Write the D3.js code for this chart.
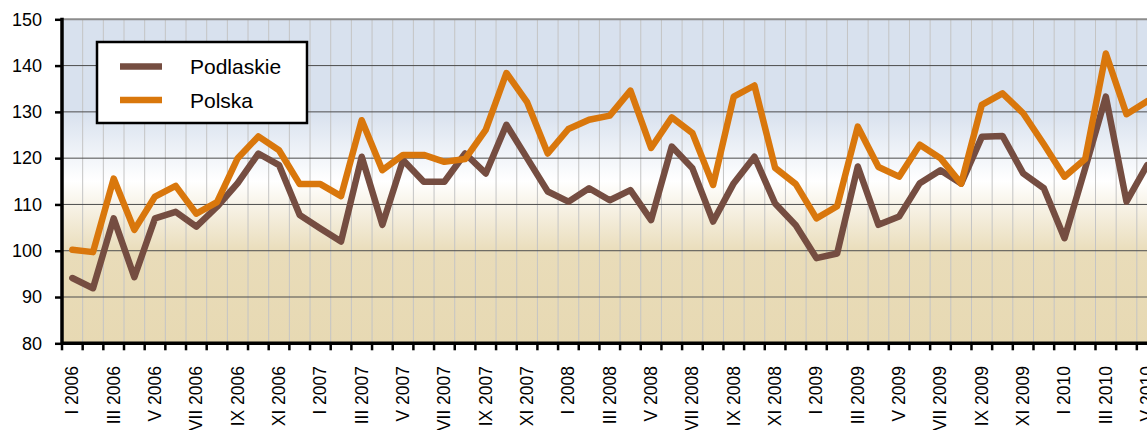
<!DOCTYPE html>
<html>
<head>
<meta charset="utf-8">
<script src="https://cdn.jsdelivr.net/npm/d3@7"></script>
<style>
  html, body { margin: 0; padding: 0; background: #ffffff; }
  svg { display: block; }
  text { font-family: "Liberation Sans", Arial, sans-serif; fill: #000; }
</style>
</head>
<body>
<svg id="chart" width="1147" height="430"></svg>
<script>
// ---- data ----
const romans = ["I","II","III","IV","V","VI","VII","VIII","IX","X","XI","XII"];
const years = [2006, 2007, 2008, 2009, 2010];
const monthCount = 53; // I 2006 .. V 2010
const categories = [];
for (let i = 0; i < monthCount; i++) {
  categories.push(romans[i % 12] + " " + years[Math.floor(i / 12)]);
}
const seriesNames = ["Podlaskie", "Polska"];
const podlaskie = [94.1, 91.9, 107.0, 94.3, 107.0, 108.4, 105.2, 109.5, 114.6, 121.0,
  118.5, 107.7, 104.8, 102.0, 120.3, 105.6, 119.6, 114.9, 114.9, 121.0,
  116.7, 127.2, 120.0, 112.8, 110.6, 113.5, 110.9, 113.1, 106.6, 122.5,
  117.8, 106.3, 114.6, 120.3, 110.2, 105.5, 98.4, 99.4, 118.2, 105.6,
  107.4, 114.6, 117.4, 114.5, 124.6, 124.8, 116.7, 113.5, 102.7, 117.8,
  133.3, 110.6, 118.5];
const polska = [100.2, 99.7, 115.6, 104.5, 111.7, 114.0, 108.0, 110.5, 120.0, 124.7,
  121.7, 114.4, 114.4, 111.8, 128.2, 117.4, 120.7, 120.7, 119.2, 119.8,
  126.1, 138.4, 132.1, 121.0, 126.3, 128.3, 129.2, 134.6, 122.2, 128.8,
  125.4, 114.2, 133.3, 135.7, 117.9, 114.4, 107.0, 109.6, 126.8, 118.1,
  116.0, 122.9, 120.0, 114.5, 131.5, 134.0, 129.7, 123.0, 116.0, 119.8,
  142.6, 129.5, 132.3];
const yTicks = [80, 90, 100, 110, 120, 130, 140, 150];

// ---- layout ----
const svg = d3.select("#chart");
const plotLeft = 62, plotTop = 19.3, plotBottom = 343.3;
const band = 20.67;
const x = d3.scaleBand().domain(categories).range([plotLeft, plotLeft + band * monthCount]).padding(0);
const y = d3.scaleLinear().domain([80, 150]).range([plotBottom, plotTop]);
const colors = { "Podlaskie": "#754d41", "Polska": "#d9770c" };

// background gradient
const defs = svg.append("defs");
const grad = defs.append("linearGradient").attr("id", "bg")
  .attr("x1", 0).attr("y1", 0).attr("x2", 0).attr("y2", 1);
[[0, "#d8e1ee"], [0.285, "#d8e1ee"], [0.5, "#ffffff"], [0.72, "#e9dcb9"], [1, "#e7d9b3"]]
  .forEach(([o, c]) => grad.append("stop").attr("offset", o).attr("stop-color", c));

const plotRight = 1160;
svg.append("rect").attr("x", plotLeft).attr("y", plotTop).attr("width", plotRight - plotLeft)
  .attr("height", plotBottom - plotTop).attr("fill", "url(#bg)");

// vertical gridlines at band edges
const edges = categories.map(c => x(c)).slice(1);
svg.append("g").selectAll("line").data(edges).join("line")
  .attr("x1", d => d).attr("x2", d => d).attr("y1", plotTop).attr("y2", plotBottom)
  .attr("stroke", "#c4c4c4").attr("stroke-width", 1);

// horizontal gridlines
svg.append("g").selectAll("line").data(yTicks.filter(t => t > 80 && t < 150)).join("line")
  .attr("x1", plotLeft).attr("x2", plotRight).attr("y1", d => y(d)).attr("y2", d => y(d))
  .attr("stroke", "#4d4d4d").attr("stroke-width", 1);
// top border
svg.append("line").attr("x1", plotLeft).attr("x2", plotRight).attr("y1", y(150)).attr("y2", y(150))
  .attr("stroke", "#8c8c8c").attr("stroke-width", 2);

// lines
const line = d3.line().x((d, i) => x(categories[i]) + x.bandwidth() / 2).y(d => y(d));
[["Podlaskie", podlaskie], ["Polska", polska]].forEach(([name, vals]) => {
  svg.append("path").datum(vals).attr("d", line)
    .attr("fill", "none").attr("stroke", colors[name]).attr("stroke-width", 6.5)
    .attr("stroke-linejoin", "round").attr("stroke-linecap", "round");
});

// y axis
const yAxis = d3.axisLeft(y).tickValues(yTicks).tickSize(7).tickPadding(13);
const gy = svg.append("g").attr("transform", `translate(${plotLeft},0)`).call(yAxis);
gy.select(".domain").remove();
gy.selectAll(".tick line").attr("stroke", "#000").attr("stroke-width", 2.5);
gy.selectAll(".tick text").attr("font-size", 18).attr("font-family", "Liberation Sans, Arial, sans-serif");

// x axis ticks at band edges
const allEdges = categories.map(c => x(c));
svg.append("g").selectAll("line").data(allEdges).join("line")
  .attr("x1", d => d).attr("x2", d => d).attr("y1", plotBottom).attr("y2", plotBottom + 7)
  .attr("stroke", "#000").attr("stroke-width", 2.5);

// x labels (every 2nd month)
svg.append("g").selectAll("text").data(categories.filter((c, i) => i % 2 === 0)).join("text")
  .attr("transform", d => `translate(${x(d) + x.bandwidth() / 2 + 6},366) rotate(-90) scale(1,1.1)`)
  .attr("text-anchor", "end")
  .attr("font-size", 17.5)
  .text(d => d);

// axis lines
svg.append("line").attr("x1", plotLeft).attr("x2", plotLeft).attr("y1", plotTop - 1.5).attr("y2", plotBottom + 1.5)
  .attr("stroke", "#000").attr("stroke-width", 3.5);
svg.append("line").attr("x1", plotLeft).attr("x2", plotRight).attr("y1", plotBottom).attr("y2", plotBottom)
  .attr("stroke", "#000").attr("stroke-width", 3.5);

// legend
const lg = svg.append("g");
lg.append("rect").attr("x", 97).attr("y", 42).attr("width", 210).attr("height", 81)
  .attr("fill", "#fff").attr("stroke", "#000").attr("stroke-width", 2.5);
seriesNames.forEach((name, i) => {
  const yy = 66.5 + i * 33.5;
  lg.append("line").attr("x1", 120).attr("x2", 162).attr("y1", yy).attr("y2", yy)
    .attr("stroke", colors[name]).attr("stroke-width", 6.5);
  lg.append("text").attr("x", 190).attr("y", yy + 7.5).attr("font-size", 21).text(name);
});
</script>
</body>
</html>
